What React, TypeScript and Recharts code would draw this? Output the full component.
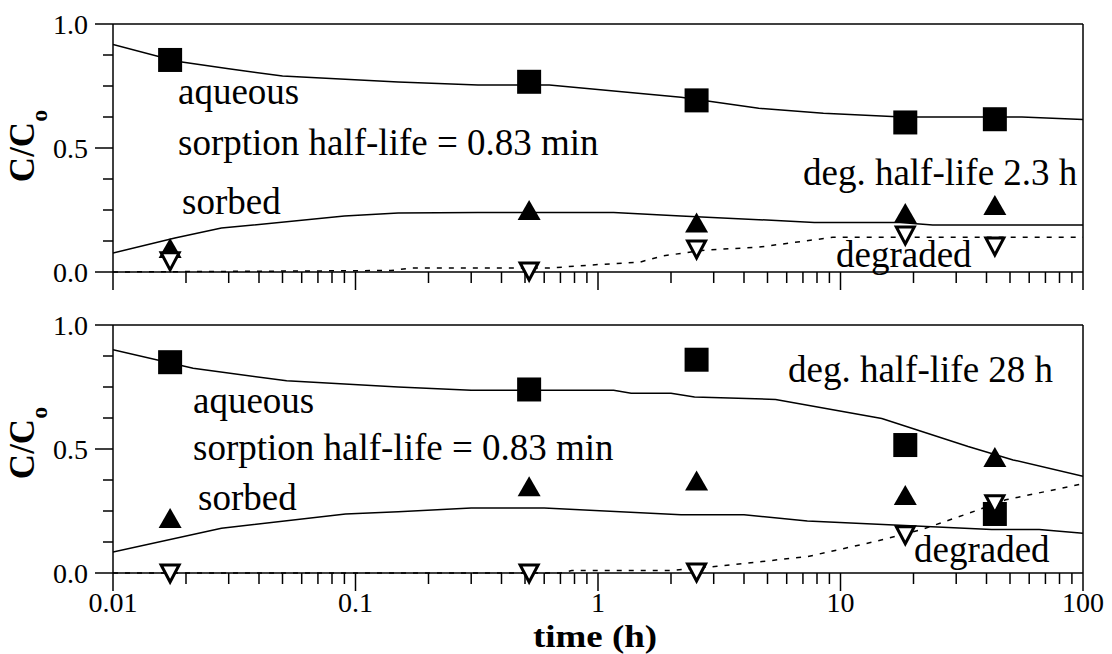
import React from 'react';
import { ComposedChart, Line, Scatter, XAxis, YAxis, ReferenceLine } from 'recharts';

// ---- sampling times (h) ----
const sampleTimes = [0.0172, 0.52, 2.55, 18.5, 43.3];

// ---- top panel (deg. half-life 2.3 h) observations ----
const topAqueousObs = [0.855, 0.767, 0.692, 0.603, 0.616];
const topSorbedObs = [0.097, 0.25, 0.2, 0.238, 0.27];
const topDegradedObs = [0.045, 0.004, 0.093, 0.149, 0.105];

// ---- top panel model curves ----
const topAqueousModelT = [0.01, 0.0183, 0.03, 0.05, 0.15, 0.32, 0.63, 2.2, 4.6, 8.5, 18, 56, 100];
const topAqueousModelV = [0.917, 0.85, 0.82, 0.79, 0.766, 0.754, 0.754, 0.705, 0.66, 0.64, 0.625, 0.625, 0.615];
const topSorbedModelT = [0.01, 0.018, 0.028, 0.09, 0.15, 0.32, 1.16, 2.2, 7.8, 17.6, 24, 100];
const topSorbedModelV = [0.077, 0.137, 0.177, 0.226, 0.238, 0.24, 0.24, 0.226, 0.2, 0.2, 0.19, 0.19];
const topDegradedModelT = [0.01, 0.14, 0.17, 0.63, 0.93, 1.49, 1.85, 2.8, 4.6, 9.3, 100];
const topDegradedModelV = [0.0, 0.006, 0.016, 0.016, 0.028, 0.04, 0.065, 0.089, 0.1, 0.14, 0.14];

// ---- bottom panel (deg. half-life 28 h) observations ----
const botAqueousObs = [0.85, 0.74, 0.86, 0.516, 0.238];
const botSorbedObs = [0.222, 0.35, 0.373, 0.315, 0.468];
const botDegradedObs = [0.0, 0.0, 0.004, 0.154, 0.279];

// ---- bottom panel model curves ----
const botAqueousModelT = [0.01, 0.0214, 0.052, 0.15, 0.3, 1.16, 1.37, 2.0, 2.5, 5.4, 14.8, 33.6, 51.5, 100];
const botAqueousModelV = [0.9, 0.826, 0.775, 0.75, 0.737, 0.737, 0.725, 0.725, 0.71, 0.7, 0.623, 0.51, 0.456, 0.39];
const botSorbedModelT = [0.01, 0.028, 0.091, 0.15, 0.3, 0.6, 2.2, 4.0, 7.3, 42, 66, 100];
const botSorbedModelV = [0.085, 0.18, 0.238, 0.247, 0.262, 0.262, 0.235, 0.235, 0.21, 0.175, 0.175, 0.16];
const botDegradedModelT = [0.01, 0.7, 0.78, 2.0, 3.1, 7.3, 13.9, 21.6, 33.6, 48, 100];
const botDegradedModelV = [0.0, 0.0, 0.01, 0.01, 0.027, 0.066, 0.127, 0.175, 0.24, 0.295, 0.36];

// ---- ticks ----
const xTicks = [0.01, 0.02, 0.03, 0.04, 0.05, 0.06, 0.07, 0.08, 0.09, 0.1, 0.2, 0.3, 0.4, 0.5, 0.6, 0.7, 0.8, 0.9, 1, 2, 3, 4, 5, 6, 7, 8, 9, 10, 20, 30, 40, 50, 60, 70, 80, 90, 100];
const xMajorTicks = [0.01, 0.1, 1, 10, 100];
const xMajorLabels = ['0.01', '0.1', '1', '10', '100'];
const yTicks = [0, 0.125, 0.25, 0.375, 0.5, 0.625, 0.75, 0.875, 1];
const yMajorTicks = [0, 0.5, 1];
const yMajorLabels = ['0.0', '0.5', '1.0'];

const SERIF = '"Liberation Serif", "Times New Roman", serif';

const pts = (ts: number[], vs: number[]) => ts.map((t, i) => ({ t, v: vs[i] }));

const Square = (p: any) => (
  <rect x={p.cx - 12} y={p.cy - 12} width={24} height={24} fill="#000" />
);
const TriUp = (p: any) => (
  <polygon points={`${p.cx},${p.cy - 10} ${p.cx + 11.5},${p.cy + 10} ${p.cx - 11.5},${p.cy + 10}`} fill="#000" />
);
const TriDown = (p: any) => (
  <polygon
    points={`${p.cx - 9},${p.cy - 8} ${p.cx + 9},${p.cy - 8} ${p.cx},${p.cy + 9}`}
    fill="#fff"
    stroke="#000"
    strokeWidth={3}
    strokeLinejoin="miter"
  />
);

const near = (a: number, b: number) => Math.abs(a - b) < 1e-9;

const XTick = (props: any) => {
  const { x, y, payload, showLabel } = props;
  const v = payload.value;
  const idx = xMajorTicks.findIndex((m) => near(m, v));
  const major = idx >= 0;
  return (
    <g>
      <line x1={x} x2={x} y1={y} y2={y + (major ? 18 : 11)} stroke="#000" strokeWidth={1.5} />
      {major && showLabel && (
        <text x={x} y={y + 39} textAnchor="middle" fontSize={28} fontFamily={SERIF} fill="#000">
          {xMajorLabels[idx]}
        </text>
      )}
    </g>
  );
};

const YTick = (props: any) => {
  const { x, y, payload } = props;
  const v = payload.value;
  const idx = yMajorTicks.findIndex((m) => near(m, v));
  const major = idx >= 0;
  return (
    <g>
      <line x1={x - (major ? 18 : 10)} x2={x} y1={y} y2={y} stroke="#000" strokeWidth={1.5} />
      {major && (
        <text x={x - 25} y={y} dy="0.35em" textAnchor="end" fontSize={28} fontFamily={SERIF} fill="#000">
          {yMajorLabels[idx]}
        </text>
      )}
    </g>
  );
};

type PanelProps = {
  top: number;
  height: number;
  marginTop: number;
  xAxisHeight: number;
  showXLabels: boolean;
  aqObs: number[];
  soObs: number[];
  deObs: number[];
  aqT: number[];
  aqV: number[];
  soT: number[];
  soV: number[];
  deT: number[];
  deV: number[];
};

const Panel = (p: PanelProps) => (
  <div style={{ position: 'absolute', left: 0, top: p.top, width: 1112, height: p.height }}>
    <ComposedChart width={1112} height={p.height} margin={{ top: p.marginTop, right: 29, bottom: 0, left: 0 }}>
      <XAxis
        dataKey="t"
        type="number"
        scale="log"
        domain={[0.01, 100]}
        allowDataOverflow
        ticks={xTicks}
        interval={0}
        height={p.xAxisHeight}
        tickSize={0}
        tickMargin={0}
        tickLine={false}
        axisLine={{ stroke: '#000', strokeWidth: 1.5 }}
        tick={(tp: any) => <XTick {...tp} showLabel={p.showXLabels} />}
      />
      <YAxis
        dataKey="v"
        type="number"
        domain={[0, 1]}
        ticks={yTicks}
        interval={0}
        width={113}
        tickSize={0}
        tickMargin={0}
        tickLine={false}
        axisLine={{ stroke: '#000', strokeWidth: 1.5 }}
        tick={(tp: any) => <YTick {...tp} />}
      />
      <ReferenceLine y={1} stroke="#000" strokeWidth={1.5} />
      <ReferenceLine x={100} stroke="#000" strokeWidth={1.5} />
      <Line data={pts(p.deT, p.deV)} dataKey="v" type="linear" stroke="#000" strokeWidth={1.5} strokeDasharray="5 7" dot={false} isAnimationActive={false} />
      <Line data={pts(p.aqT, p.aqV)} dataKey="v" type="linear" stroke="#000" strokeWidth={1.5} dot={false} isAnimationActive={false} />
      <Line data={pts(p.soT, p.soV)} dataKey="v" type="linear" stroke="#000" strokeWidth={1.5} dot={false} isAnimationActive={false} />
      <Scatter data={pts(sampleTimes, p.aqObs)} dataKey="v" shape={Square} isAnimationActive={false} />
      <Scatter data={pts(sampleTimes, p.soObs)} dataKey="v" shape={TriUp} isAnimationActive={false} />
      <Scatter data={pts(sampleTimes, p.deObs)} dataKey="v" shape={TriDown} isAnimationActive={false} />
    </ComposedChart>
  </div>
);

const Ann = ({ x, y, children, size = 37, bold = false }: any) => (
  <text x={x} y={y} fontSize={size} fontFamily={SERIF} fontWeight={bold ? 'bold' : 'normal'} fill="#000">
    {children}
  </text>
);

const YLabel = ({ cy }: { cy: number }) => (
  <text
    transform={`translate(34,${cy}) rotate(-90)`}
    textAnchor="middle"
    fontSize={35}
    fontWeight="bold"
    fontFamily={SERIF}
    fill="#000"
  >
    C/C<tspan fontSize={24} dy={13}>o</tspan>
  </text>
);

export default function App() {
  return (
    <div style={{ position: 'absolute', left: 0, top: 0, width: 1112, height: 654, background: '#fff' }}>
      <Panel
        top={0}
        height={300}
        marginTop={24}
        xAxisHeight={28}
        showXLabels={false}
        aqObs={topAqueousObs}
        soObs={topSorbedObs}
        deObs={topDegradedObs}
        aqT={topAqueousModelT}
        aqV={topAqueousModelV}
        soT={topSorbedModelT}
        soV={topSorbedModelV}
        deT={topDegradedModelT}
        deV={topDegradedModelV}
      />
      <Panel
        top={300}
        height={354}
        marginTop={25}
        xAxisHeight={81}
        showXLabels={true}
        aqObs={botAqueousObs}
        soObs={botSorbedObs}
        deObs={botDegradedObs}
        aqT={botAqueousModelT}
        aqV={botAqueousModelV}
        soT={botSorbedModelT}
        soV={botSorbedModelV}
        deT={botDegradedModelT}
        deV={botDegradedModelV}
      />
      <svg
        width={1112}
        height={654}
        style={{ position: 'absolute', left: 0, top: 0, pointerEvents: 'none' }}
      >
        <YLabel cy={146} />
        <YLabel cy={443} />
        <Ann x={178} y={104}>aqueous</Ann>
        <Ann x={178} y={155}>sorption half-life = 0.83 min</Ann>
        <Ann x={182} y={214}>sorbed</Ann>
        <Ann x={803} y={185}>deg. half-life 2.3 h</Ann>
        <Ann x={836} y={267}>degraded</Ann>
        <Ann x={788} y={382}>deg. half-life 28 h</Ann>
        <Ann x={193} y={413}>aqueous</Ann>
        <Ann x={193} y={460}>sorption half-life = 0.83 min</Ann>
        <Ann x={198} y={510}>sorbed</Ann>
        <Ann x={914} y={562}>degraded</Ann>
        <text
          x={595}
          y={647}
          textAnchor="middle"
          fontSize={32}
          fontWeight="bold"
          fontFamily={SERIF}
          fill="#000"
          textLength={124}
          lengthAdjust="spacingAndGlyphs"
        >
          time (h)
        </text>
      </svg>
    </div>
  );
}
